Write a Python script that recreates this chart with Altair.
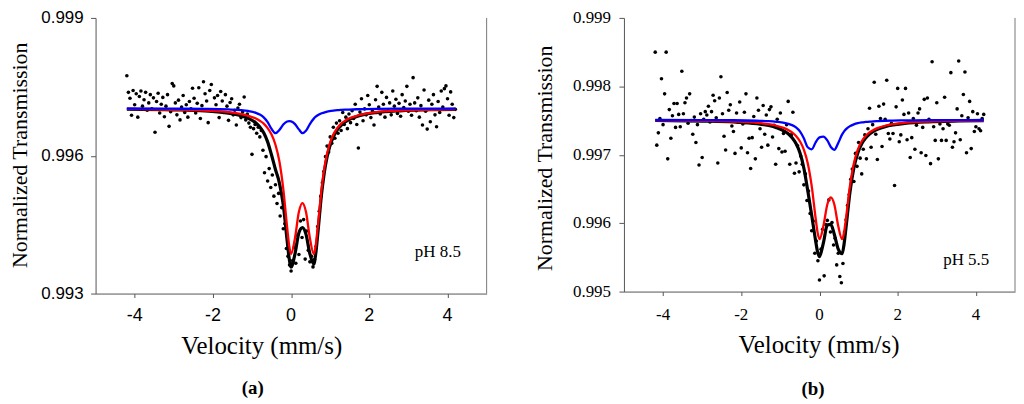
import altair as alt
import pandas as pd

# channel velocities (mm/s), shared by both spectra
velocity = [
    -4.20, -4.16, -4.12, -4.08, -4.04, -4.00, -3.96, -3.92, -3.88, -3.84,
    -3.80, -3.76, -3.72, -3.68, -3.64, -3.60, -3.56, -3.52, -3.48, -3.44,
    -3.40, -3.36, -3.32, -3.28, -3.24, -3.20, -3.16, -3.12, -3.08, -3.04,
    -3.00, -2.96, -2.92, -2.88, -2.84, -2.80, -2.76, -2.72, -2.68, -2.64,
    -2.60, -2.56, -2.52, -2.48, -2.44, -2.40, -2.36, -2.32, -2.28, -2.24,
    -2.20, -2.16, -2.12, -2.08, -2.04, -2.00, -1.96, -1.92, -1.88, -1.84,
    -1.80, -1.76, -1.72, -1.68, -1.64, -1.60, -1.56, -1.52, -1.48, -1.44,
    -1.40, -1.36, -1.32, -1.28, -1.24, -1.20, -1.16, -1.12, -1.08, -1.04,
    -1.00, -0.96, -0.92, -0.88, -0.84, -0.80, -0.76, -0.72, -0.68, -0.64,
    -0.60, -0.56, -0.52, -0.48, -0.44, -0.40, -0.36, -0.32, -0.28, -0.24,
    -0.20, -0.16, -0.12, -0.08, -0.04, 0.00, 0.04, 0.08, 0.12, 0.16,
    0.20, 0.24, 0.28, 0.32, 0.36, 0.40, 0.44, 0.48, 0.52, 0.56,
    0.60, 0.64, 0.68, 0.72, 0.76, 0.80, 0.84, 0.88, 0.92, 0.96,
    1.00, 1.04, 1.08, 1.12, 1.16, 1.20, 1.24, 1.28, 1.32, 1.36,
    1.40, 1.44, 1.48, 1.52, 1.56, 1.60, 1.64, 1.68, 1.72, 1.76,
    1.80, 1.84, 1.88, 1.92, 1.96, 2.00, 2.04, 2.08, 2.12, 2.16,
    2.20, 2.24, 2.28, 2.32, 2.36, 2.40, 2.44, 2.48, 2.52, 2.56,
    2.60, 2.64, 2.68, 2.72, 2.76, 2.80, 2.84, 2.88, 2.92, 2.96,
    3.00, 3.04, 3.08, 3.12, 3.16, 3.20, 3.24, 3.28, 3.32, 3.36,
    3.40, 3.44, 3.48, 3.52, 3.56, 3.60, 3.64, 3.68, 3.72, 3.76,
    3.80, 3.84, 3.88, 3.92, 3.96, 4.00, 4.04, 4.08, 4.12, 4.16,
    4.20,
]

# measured transmission, pH 8.5
trans_a = [
    0.99774, 0.99738, 0.99725, 0.99688, 0.99742, 0.99711, 0.99735, 0.99684, 0.99729, 0.99741,
    0.99708, 0.99722, 0.99738, 0.99699, 0.99715, 0.99733, 0.99702, 0.99726, 0.99651, 0.99718,
    0.99736, 0.99693, 0.99712, 0.99727, 0.99685, 0.99708, 0.99733, 0.99664, 0.99696, 0.99757,
    0.99752, 0.99715, 0.99689, 0.99721, 0.99678, 0.99706, 0.99731, 0.99694, 0.99711, 0.99684,
    0.99718, 0.99702, 0.99747, 0.99725, 0.99693, 0.99714, 0.99748, 0.99681, 0.99709, 0.99761,
    0.99735, 0.99719, 0.99672, 0.99742, 0.99755, 0.99698, 0.99726, 0.99711, 0.99731, 0.99683,
    0.99740, 0.99719, 0.99694, 0.99733, 0.99708, 0.99677, 0.99716, 0.99724, 0.99689, 0.99699,
    0.99667, 0.99704, 0.99712, 0.99683, 0.99695, 0.99728, 0.99678, 0.99691, 0.99671, 0.99662,
    0.99603, 0.99659, 0.99668, 0.99649, 0.99662, 0.99641, 0.99655, 0.99612, 0.99563, 0.99598,
    0.99545, 0.99572, 0.99531, 0.99558, 0.99512, 0.99537, 0.99496, 0.99518, 0.99469, 0.99487,
    0.99441, 0.99452, 0.99398, 0.99381, 0.99362, 0.99349, 0.99372, 0.99401, 0.99366, 0.99427,
    0.99385, 0.99458, 0.99422, 0.99461, 0.99375, 0.99436, 0.99394, 0.99369, 0.99381, 0.99358,
    0.99374, 0.99403, 0.99446, 0.99479, 0.99512, 0.99541, 0.99566, 0.99598, 0.99621, 0.99608,
    0.99641, 0.99627, 0.99662, 0.99638, 0.99671, 0.99649, 0.99676, 0.99655, 0.99694, 0.99668,
    0.99684, 0.99659, 0.99691, 0.99672, 0.99698, 0.99681, 0.99712, 0.99668, 0.99617, 0.99695,
    0.99724, 0.99676, 0.99702, 0.99689, 0.99731, 0.99711, 0.99683, 0.99698, 0.99667, 0.99722,
    0.99751, 0.99706, 0.99691, 0.99738, 0.99712, 0.99684, 0.99727, 0.99698, 0.99715, 0.99689,
    0.99741, 0.99708, 0.99723, 0.99692, 0.99714, 0.99686, 0.99733, 0.99705, 0.99719, 0.99751,
    0.99697, 0.99712, 0.99688, 0.99770, 0.99715, 0.99698, 0.99726, 0.99684, 0.99709, 0.99667,
    0.99743, 0.99697, 0.99658, 0.99721, 0.99674, 0.99712, 0.99733, 0.99689, 0.99663, 0.99718,
    0.99694, 0.99741, 0.99706, 0.99746, 0.99752, 0.99724, 0.99688, 0.99739, 0.99712, 0.99683,
    0.99701,
]

# measured transmission, pH 5.5
trans_b = [
    0.99850, 0.99714, 0.99732, 0.99753, 0.99811, 0.99744, 0.99789, 0.99850, 0.99694, 0.99766,
    0.99724, 0.99757, 0.99775, 0.99740, 0.99775, 0.99759, 0.99741, 0.99822, 0.99760, 0.99776,
    0.99783, 0.99746, 0.99789, 0.99750, 0.99730, 0.99755, 0.99718, 0.99744, 0.99685, 0.99760,
    0.99696, 0.99752, 0.99763, 0.99758, 0.99771, 0.99748, 0.99763, 0.99787, 0.99779, 0.99754,
    0.99688, 0.99783, 0.99814, 0.99760, 0.99727, 0.99707, 0.99791, 0.99765, 0.99773, 0.99742,
    0.99734, 0.99702, 0.99761, 0.99748, 0.99777, 0.99710, 0.99745, 0.99762, 0.99789, 0.99703,
    0.99724, 0.99680, 0.99725, 0.99756, 0.99694, 0.99783, 0.99765, 0.99738, 0.99711, 0.99772,
    0.99730, 0.99758, 0.99714, 0.99766, 0.99770, 0.99726, 0.99743, 0.99686, 0.99752, 0.99709,
    0.99761, 0.99704, 0.99731, 0.99705, 0.99744, 0.99778, 0.99686, 0.99729, 0.99762, 0.99673,
    0.99688, 0.99713, 0.99675, 0.99698, 0.99686, 0.99656, 0.99672, 0.99633, 0.99647, 0.99614,
    0.99589, 0.99603, 0.99556, 0.99574, 0.99545, 0.99517, 0.99562, 0.99591, 0.99523, 0.99598,
    0.99604, 0.99634, 0.99587, 0.99601, 0.99568, 0.99578, 0.99539, 0.99556, 0.99522, 0.99513,
    0.99541, 0.99587, 0.99605, 0.99626, 0.99642, 0.99664, 0.99679, 0.99661, 0.99702, 0.99683,
    0.99718, 0.99695, 0.99672, 0.99708, 0.99729, 0.99694, 0.99738, 0.99768, 0.99711, 0.99744,
    0.99806, 0.99730, 0.99693, 0.99771, 0.99753, 0.99712, 0.99774, 0.99752, 0.99809, 0.99731,
    0.99723, 0.99746, 0.99731, 0.99655, 0.99770, 0.99797, 0.99719, 0.99729, 0.99780, 0.99759,
    0.99797, 0.99722, 0.99761, 0.99696, 0.99725, 0.99753, 0.99708, 0.99743, 0.99761, 0.99767,
    0.99703, 0.99740, 0.99781, 0.99699, 0.99783, 0.99752, 0.99687, 0.99836, 0.99741, 0.99721,
    0.99776, 0.99694, 0.99745, 0.99721, 0.99738, 0.99784, 0.99721, 0.99745, 0.99743, 0.99820,
    0.99711, 0.99719, 0.99732, 0.99767, 0.99837, 0.99722, 0.99757, 0.99788, 0.99821, 0.99703,
    0.99754, 0.99778, 0.99709, 0.99763, 0.99734, 0.99741, 0.99760, 0.99738, 0.99735, 0.99753,
    0.99759,
]

# fitted curves, read at these velocities
fit_v = [-4.2, -3.0, -2.2, -1.6, -1.3, -1.1, -0.9, -0.8, -0.7, -0.6,
         -0.5, -0.4, -0.3, -0.2, -0.1, -0.05, 0.0, 0.1, 0.2, 0.29,
         0.38, 0.48, 0.58, 0.63, 0.68, 0.78, 0.88, 0.98, 1.08, 1.18,
         1.28, 1.38, 1.48, 1.68, 1.88, 2.18, 2.78, 3.58, 4.2]

black_a = [0.997014, 0.996999, 0.996974, 0.996927, 0.996877, 0.996817, 0.996714, 0.996628, 0.9965, 0.996302,
           0.996015, 0.995701, 0.995411, 0.994931, 0.994144, 0.99377, 0.993578, 0.993866, 0.994325, 0.994434,
           0.994293, 0.993867, 0.993638, 0.993865, 0.994279, 0.995175, 0.995801, 0.99618, 0.996413, 0.996562,
           0.996663, 0.996735, 0.996787, 0.996856, 0.9969, 0.996939, 0.996978, 0.997001, 0.997008]
red_a = [0.99702, 0.99700, 0.99698, 0.99695, 0.99691, 0.99687, 0.99681, 0.99676, 0.99670, 0.99660,
         0.99646, 0.99624, 0.99588, 0.99528, 0.99443, 0.99405, 0.99386, 0.99421, 0.99478, 0.99497,
         0.99478, 0.99421, 0.99386, 0.99405, 0.99443, 0.99528, 0.99588, 0.99624, 0.99646, 0.99660,
         0.99670, 0.99676, 0.99681, 0.99687, 0.99691, 0.99695, 0.99698, 0.99700, 0.99701]
blue_a = [0.997027, 0.997024, 0.997019, 0.997007, 0.996993, 0.996974, 0.996934, 0.996896, 0.996834, 0.99673,
          0.996584, 0.99649, 0.996561, 0.99668, 0.996745, 0.996754, 0.996748, 0.996689, 0.996574, 0.996491,
          0.996542, 0.99669, 0.996808, 0.996849, 0.99688, 0.996924, 0.996951, 0.996969, 0.996982, 0.996991,
          0.996997, 0.997002, 0.997006, 0.997012, 0.997016, 0.99702, 0.997024, 0.997026, 0.997027]

black_b = [0.997501, 0.997492, 0.997479, 0.997453, 0.997427, 0.997396, 0.997346, 0.997306, 0.997249, 0.997163,
           0.997028, 0.996806, 0.996476, 0.996118, 0.995748, 0.995584, 0.995511, 0.995712, 0.995972, 0.995982,
           0.995835, 0.99562, 0.995553, 0.9957, 0.995943, 0.996456, 0.996811, 0.997027, 0.997159, 0.997243,
           0.997301, 0.997342, 0.997371, 0.997411, 0.997436, 0.997458, 0.997481, 0.997493, 0.997498]
red_b = [0.997503, 0.997496, 0.997485, 0.997466, 0.997446, 0.997424, 0.997389, 0.997363, 0.997326, 0.997274,
         0.997197, 0.997076, 0.996877, 0.996548, 0.996079, 0.995869, 0.995766, 0.995957, 0.996273, 0.996378,
         0.996273, 0.995957, 0.995766, 0.995869, 0.996079, 0.996548, 0.996877, 0.997076, 0.997197, 0.997274,
         0.997326, 0.997363, 0.997389, 0.997424, 0.997446, 0.997466, 0.997485, 0.997496, 0.9975]
blue_b = [0.997508, 0.997507, 0.997504, 0.997497, 0.997491, 0.997482, 0.997467, 0.997453, 0.997433, 0.997399,
          0.997341, 0.99724, 0.997109, 0.99708, 0.997179, 0.997225, 0.997255, 0.997265, 0.997209, 0.997114,
          0.997072, 0.997173, 0.997297, 0.997341, 0.997374, 0.997418, 0.997444, 0.997461, 0.997472, 0.997479,
          0.997485, 0.997489, 0.997492, 0.997497, 0.9975, 0.997502, 0.997506, 0.997507, 0.997508]

xtick_vals = [-4, -2, 0, 2, 4]
xtick_labels = ["-4", "-2", "0", "2", "4"]
yticks_a = [0.993, 0.996, 0.999]
yticks_b = [0.995, 0.996, 0.997, 0.998, 0.999]

SERIF = "Liberation Serif"
SANS = "Liberation Sans"
one = pd.DataFrame({"k": [0]})


def panel(trans, black, red, blue, ydom, yticks, tick_font, ysize, xsize, w, h,
          ylab_x, xlab_y, ytitle_xy, xtitle_xy, ph, ph_xy, letter, letter_xy):
    pts = pd.DataFrame({"v": velocity, "t": trans})
    fit = pd.DataFrame({"v": fit_v, "black": black, "red": red, "blue": blue})
    xs = alt.Scale(domain=[-5, 5], nice=False)
    ys = alt.Scale(domain=ydom, nice=False, zero=False)
    x_axis = alt.Axis(values=xtick_vals, labels=False, title=None, tickSize=4, grid=False)
    y_axis = alt.Axis(values=yticks, labels=False, title=None, tickSize=5, grid=False)

    dots = alt.Chart(pts).mark_circle(size=13, color="black", opacity=1).encode(
        x=alt.X("v:Q", scale=xs, axis=x_axis),
        y=alt.Y("t:Q", scale=ys, axis=y_axis),
    )
    layers = [dots]
    for col, colour, sw in [("black", "#000000", 3.2), ("red", "#ff0000", 2.3), ("blue", "#0000ff", 2.3)]:
        layers.append(
            alt.Chart(fit).mark_line(color=colour, strokeWidth=sw, interpolate="monotone").encode(
                x=alt.X("v:Q", scale=xs, axis=x_axis),
                y=alt.Y(f"{col}:Q", scale=ys, axis=y_axis),
            )
        )
    # tick labels
    layers.append(
        alt.Chart(pd.DataFrame({"t": yticks})).mark_text(
            align="right", baseline="middle", font=tick_font, fontSize=ysize
        ).encode(
            x=alt.value(ylab_x),
            y=alt.Y("t:Q", scale=ys, axis=y_axis),
            text=alt.Text("t:Q", format=".3f"),
        )
    )
    layers.append(
        alt.Chart(pd.DataFrame({"v": xtick_vals, "lab": xtick_labels})).mark_text(
            align="center", baseline="middle", font=tick_font, fontSize=xsize
        ).encode(
            x=alt.X("v:Q", scale=xs, axis=x_axis),
            y=alt.value(xlab_y),
            text="lab:N",
        )
    )
    # axis titles
    layers.append(
        alt.Chart(one).mark_text(text="Normalized Transmission", angle=270, font=SERIF,
                                 fontSize=22, baseline="middle").encode(
            x=alt.value(ytitle_xy[0]), y=alt.value(ytitle_xy[1])
        )
    )
    layers.append(
        alt.Chart(one).mark_text(text="Velocity (mm/s)", font=SERIF, fontSize=25,
                                 baseline="middle").encode(
            x=alt.value(xtitle_xy[0]), y=alt.value(xtitle_xy[1])
        )
    )
    layers.append(
        alt.Chart(one).mark_rule(color="#777777", strokeWidth=1).encode(
            x=alt.value(w), y=alt.value(0), y2=alt.value(h)
        )
    )
    layers.append(
        alt.Chart(one).mark_text(text=ph, font=SERIF, fontSize=17).encode(
            x=alt.value(ph_xy[0]), y=alt.value(ph_xy[1])
        )
    )
    layers.append(
        alt.Chart(one).mark_text(text=letter, font=SERIF, fontSize=19, fontWeight="bold").encode(
            x=alt.value(letter_xy[0]), y=alt.value(letter_xy[1])
        )
    )
    return alt.layer(*layers).properties(width=w, height=h)


chart_a = panel(trans_a, black_a, red_a, blue_a, [0.993, 0.999], yticks_a, SANS, 17, 18,
                393, 277, ylab_x=-12, xlab_y=300, ytitle_xy=(-76, 138), xtitle_xy=(167, 330),
                ph="pH 8.5", ph_xy=(344, 235), letter="(a)", letter_xy=(158, 372))
chart_b = panel(trans_b, black_b, red_b, blue_b, [0.995, 0.999], yticks_b, SERIF, 17, 17,
                393, 275, ylab_x=-13, xlab_y=299, ytitle_xy=(-79, 141), xtitle_xy=(196, 329),
                ph="pH 5.5", ph_xy=(344, 243), letter="(b)", letter_xy=(190, 373))

chart = alt.hconcat(chart_a, chart_b, spacing=47).properties(
    padding={"left": 1, "top": 0, "right": 0, "bottom": 0}
).configure_view(stroke=None).configure_axis(
    domainColor="#555555", tickColor="#555555"
)

chart.save("out.html", embed_options={"renderer": "svg", "actions": False})
